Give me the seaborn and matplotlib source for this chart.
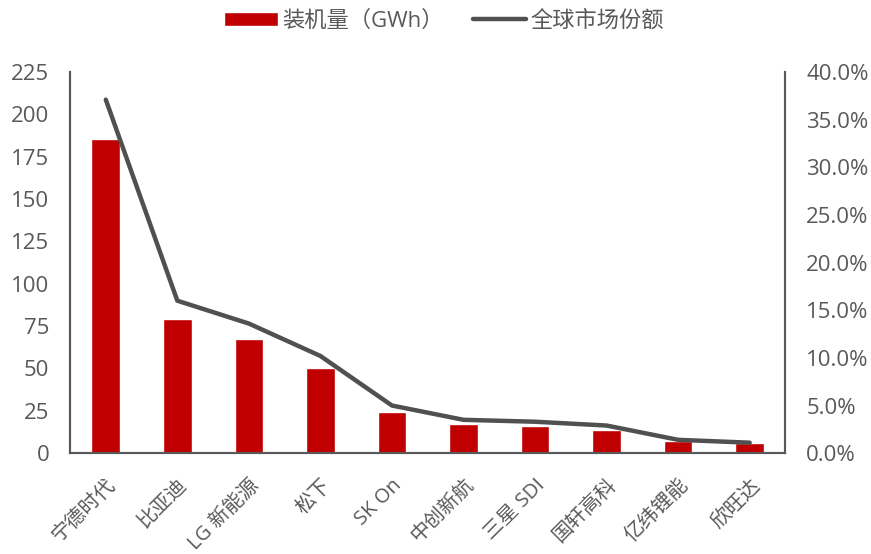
import matplotlib
matplotlib.use("Agg")
import matplotlib.pyplot as plt
import numpy as np
import pandas as pd
import seaborn as sns
from matplotlib.ticker import FuncFormatter, MultipleLocator

# data
companies = ["宁德时代", "比亚迪", "LG 新能源", "松下", "SK On",
             "中创新航", "三星 SDI", "国轩高科", "亿纬锂能", "欣旺达"]
capacity_gwh = [185.3, 79.1, 67.2, 50.2, 24.4, 17.3, 16.1, 13.6, 6.9, 5.9]
share_pct = [37.1, 16.0, 13.6, 10.2, 5.0, 3.5, 3.3, 2.9, 1.4, 1.1]

sns.set_theme(style="white")
plt.rcParams["font.family"] = ["Open Sans", "Noto Sans CJK SC", "DejaVu Sans"]

grey = "#595959"
bar_red = "#C00000"
line_grey = "#505050"

df = pd.DataFrame({"company": companies, "gwh": capacity_gwh, "share": share_pct})

fig = plt.figure(figsize=(8.71, 5.54), dpi=100)
ax = fig.add_axes([0.0804, 0.182, 0.8214, 0.688])

sns.barplot(data=df, x="company", y="gwh", color=bar_red, width=0.4,
            saturation=1, ax=ax, label="装机量（GWh）")
ax.set_ylim(0, 225)
ax.yaxis.set_major_locator(MultipleLocator(25))
ax.set_xlim(-0.5, len(companies) - 0.5)

ax2 = ax.twinx()
sns.lineplot(x=np.arange(len(companies)), y=df["share"], color=line_grey,
             linewidth=3.2, ax=ax2, label="全球市场份额")
ax2.set_ylim(0, 40)
ax2.yaxis.set_major_locator(MultipleLocator(5))
ax2.yaxis.set_major_formatter(FuncFormatter(lambda v, p: f"{v:.1f}%"))

for a in (ax, ax2):
    a.set_xlabel("")
    a.set_ylabel("")
    a.spines["top"].set_visible(False)
    for s in ("left", "right", "bottom"):
        a.spines[s].set_color(grey)
        a.spines[s].set_linewidth(1.5)
    a.tick_params(axis="y", length=0, colors=grey, labelsize=16, pad=15)
    a.tick_params(axis="x", length=0, colors=grey, labelsize=14.5, pad=16)

ax.set_xticks(range(len(companies)))
ax.set_xticklabels(companies, rotation=45, ha="right", rotation_mode="anchor")

# combined legend above the plot
h1, l1 = ax.get_legend_handles_labels()
h2, l2 = ax2.get_legend_handles_labels()
if ax.get_legend():
    ax.get_legend().remove()
if ax2.get_legend():
    ax2.get_legend().remove()
fig.legend(h1 + h2, l1 + l2, loc="center", bbox_to_anchor=(0.51, 0.962),
           ncol=2, frameon=False, fontsize=16, labelcolor=grey,
           handlelength=2.4, handleheight=0.6, columnspacing=1.3,
           handletextpad=0.2)

fig.savefig("out.png", dpi=100)
